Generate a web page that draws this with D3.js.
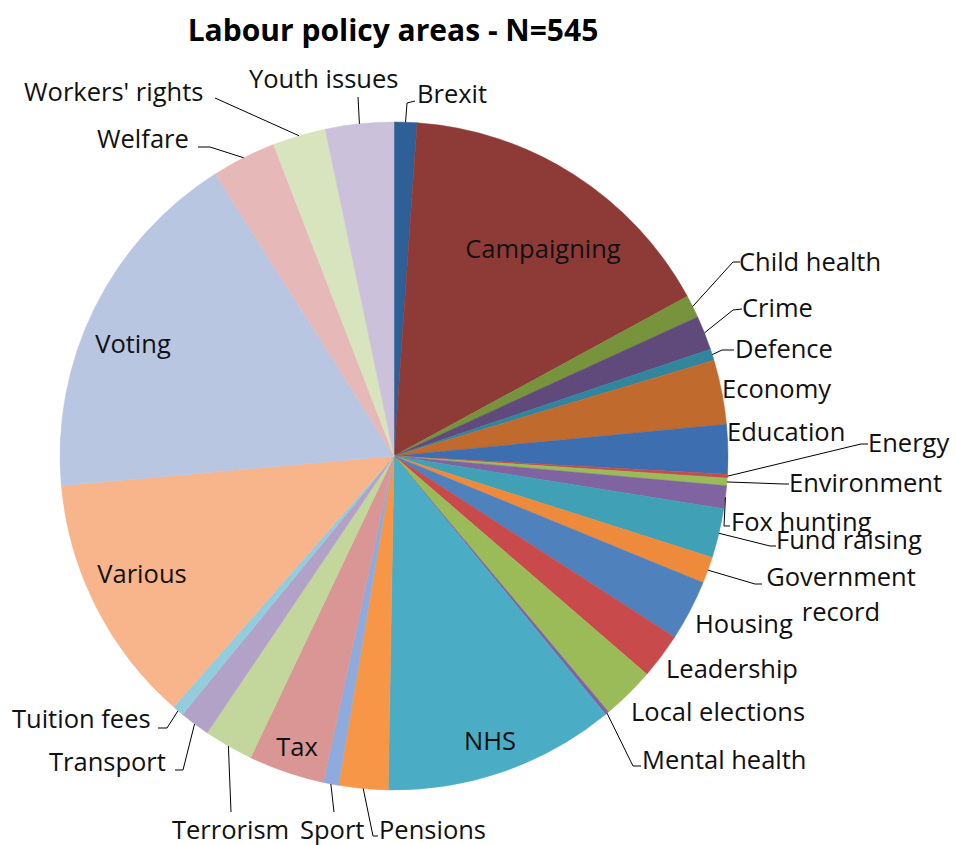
<!DOCTYPE html>
<html><head><meta charset="utf-8">
<script src="https://cdn.jsdelivr.net/npm/d3@7"></script>
<style>body{margin:0;background:#fff}svg{display:block}</style>
</head><body><svg id="c" width="956" height="845"></svg>
<script>
const categories = ["Brexit","Campaigning","Child health","Crime","Defence","Economy","Education","Energy","Environment","Fox hunting","Fund raising","Government record","Housing","Leadership","Local elections","Mental health","NHS","Pensions","Sport","Tax","Terrorism","Transport","Tuition fees","Various","Voting","Welfare","Workers' rights","Youth issues"];
const values = [6,87,6,9,3,17,13,1,2,6,13,7,16,12,14,1,61,13,4,20,13,8,3,66,95,17,14,18];
const colors = ["#2F5F97","#8E3B37","#77933C","#604A7B","#31859C","#C06A2E","#3C6EB0","#C0504D","#9BBB59","#8064A2","#3FA0B6","#EE8A3C","#4F81BD","#C94A4A","#9BBB59","#8064A2","#4BACC6","#F79646","#8FAADC","#D99694","#C3D69B","#B3A2C7","#93CDDD","#F8B48A","#B9C6E1","#E6B9B8","#D7E4BD","#CCC1DA"];
const title = "Labour policy areas - N=545";

// label layout: [x, baseline y, anchor, leader points after arc point]
const layout = {
 "Brexit":[417,103,"start",[[407,103],[415,101]]],
 "Campaigning":[543,258,"middle",null],
 "Child health":[739,271,"start",[[733,262],[740,262]]],
 "Crime":[742,317,"start",[[733,310],[742,309]]],
 "Defence":[735,358,"start",[[722,350],[734,350]]],
 "Economy":[722,398,"start",null],
 "Education":[727,441,"start",null],
 "Energy":[868,452,"start",[[861,444],[868,444]]],
 "Environment":[789,492,"start",[[784,484],[789,484]]],
 "Fox hunting":[731,531,"start",[[724,526],[730,526]]],
 "Fund raising":[776,549,"start",[[770,546],[776,546]]],
 "Government record":[841,586,"middle",[[755,584],[762,584]]],
 "Housing":[695,633,"start",null],
 "Leadership":[666,678,"start",null],
 "Local elections":[631,721,"start",null],
 "Mental health":[642,769,"start",[[633,766],[641,766]]],
 "NHS":[490,750,"middle",null],
 "Pensions":[379,839,"start",[[373,836],[378,836]]],
 "Sport":[300,839,"start",[[334,812]]],
 "Tax":[297,756,"middle",null],
 "Terrorism":[172,839,"start",[[231,812]]],
 "Transport":[49,771,"start",[[183,770],[175,770]]],
 "Tuition fees":[12,728,"start",[[167,728],[158,728]]],
 "Various":[142,583,"middle",null],
 "Voting":[133,353,"middle",null],
 "Welfare":[97,148,"start",[[210,147],[198,147]]],
 "Workers' rights":[24,101,"start",[[215,98]]],
 "Youth issues":[249,88,"start",[[358,97]]]
};

const svg = d3.select("#c");
const cx = 394, cy = 456, R = 334;
const font = "'Open Sans', Lato, sans-serif";

svg.append("text").attr("x",393).attr("y",41).attr("text-anchor","middle")
  .attr("font-family",font).attr("font-weight","bold").attr("font-size",30).attr("fill","#000").text(title);

const data = categories.map((c,i)=>({name:c,value:values[i],color:colors[i]}));
const pie = d3.pie().value(d=>d.value).sort(null);
const arcs = pie(data);
const arc = d3.arc().innerRadius(0).outerRadius(R);
const g = svg.append("g").attr("transform",`translate(${cx},${cy})`);
g.selectAll("path").data(arcs).join("path").attr("d",arc).attr("fill",d=>d.data.color)
  .attr("stroke",d=>d.data.color).attr("stroke-width",0.5);

// leader lines
arcs.forEach(a=>{
  const L = layout[a.data.name];
  if(!L || !L[3]) return;
  const m = (a.startAngle+a.endAngle)/2;
  const p0 = [cx + R*Math.sin(m), cy - R*Math.cos(m)];
  const pts = [p0].concat(L[3]);
  svg.append("path").attr("d",d3.line()(pts)).attr("fill","none").attr("stroke","#000").attr("stroke-width",1);
});

arcs.forEach(a=>{
  const L = layout[a.data.name];
  const t = svg.append("text").attr("x",L[0]).attr("y",L[1]).attr("text-anchor",L[2])
    .attr("font-family",font).attr("font-size",25.5).attr("fill","#111");
  if(a.data.name==="Government record"){
    t.append("tspan").attr("x",L[0]).text("Government");
    t.append("tspan").attr("x",L[0]).attr("dy",35).text("record");
  } else t.text(a.data.name);
});
</script></body></html>
